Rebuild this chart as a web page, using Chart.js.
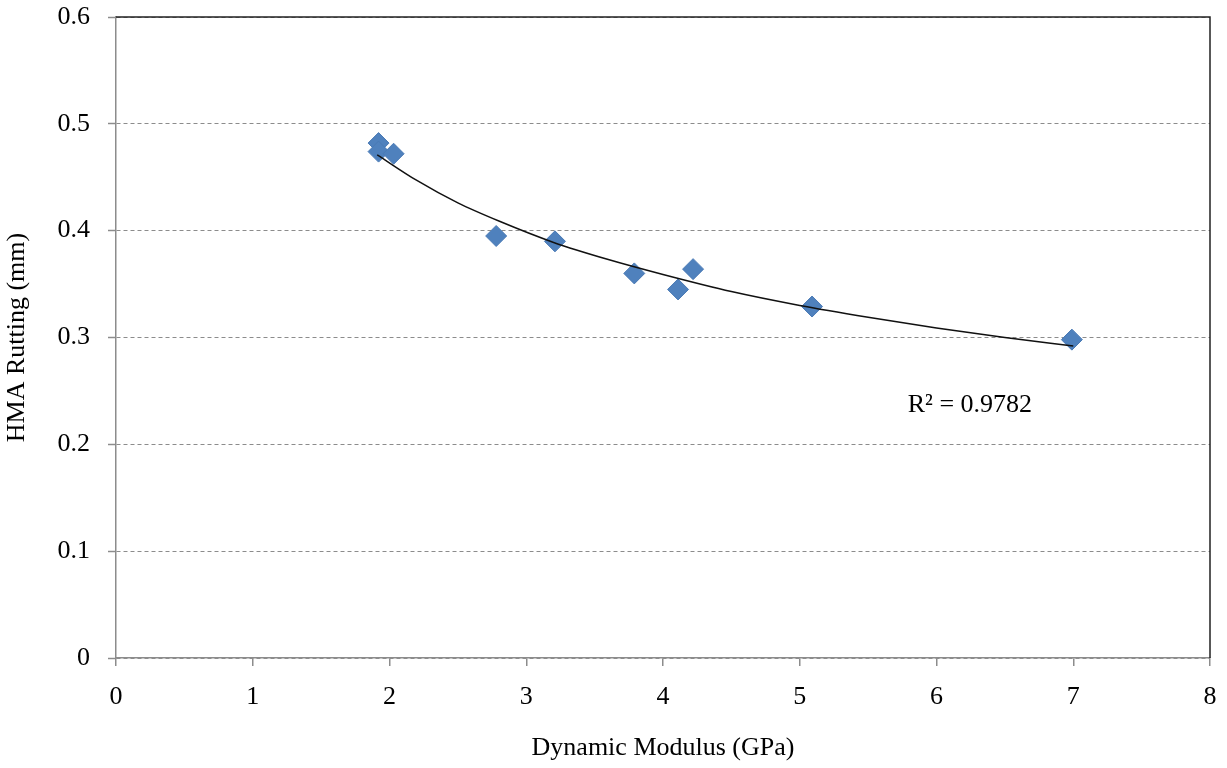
<!DOCTYPE html>
<html>
<head>
<meta charset="utf-8">
<script src="https://cdn.jsdelivr.net/npm/chart.js@4/dist/chart.umd.min.js"></script>
<style>
  html, body { margin: 0; padding: 0; background: #fff; }
  #wrap { width: 1227px; height: 768px; }
</style>
</head>
<body>
<div id="wrap"><canvas id="myChart" width="1227" height="768"></canvas></div>
<script>
// measured points (GPa, mm)
const modulus = [1.92, 1.92, 2.03, 2.78, 3.21, 3.79, 4.11, 4.22, 5.09, 6.99];
const rutting = [0.482, 0.474, 0.472, 0.395, 0.390, 0.360, 0.345, 0.364, 0.329, 0.298];

// trend curve
const trendX = [1.91, 2.2, 2.5, 2.8, 3.2, 3.6, 4.0, 4.5, 5.0, 5.5, 6.0, 6.5, 7.0];
const trendY = [0.471, 0.447, 0.426, 0.409, 0.389, 0.373, 0.359, 0.343, 0.330, 0.319, 0.309, 0.300, 0.292];

const xTicks = [0, 1, 2, 3, 4, 5, 6, 7, 8];
const yTicks = [0, 0.1, 0.2, 0.3, 0.4, 0.5, 0.6];
const r2Label = 'R² = 0.9782';
const r2Pos = [5.79, 0.237];

const serif = '"Liberation Serif", "Times New Roman", serif';
const gray = '#8c8c8c';

// top + right frame of the plot area, and the R² text
const extras = {
  id: 'extras',
  afterDraw(chart) {
    const { ctx, chartArea: a, scales } = chart;
    ctx.save();
    ctx.strokeStyle = '#222';
    ctx.lineWidth = 1.5;
    ctx.beginPath();
    ctx.moveTo(a.left, a.top);
    ctx.lineTo(a.right, a.top);
    ctx.lineTo(a.right, a.bottom);
    ctx.stroke();
    ctx.fillStyle = '#000';
    ctx.font = '26px ' + serif;
    ctx.textAlign = 'left';
    ctx.textBaseline = 'middle';
    ctx.fillText(r2Label, scales.x.getPixelForValue(r2Pos[0]), scales.y.getPixelForValue(r2Pos[1]));
    ctx.restore();
  }
};

new Chart(document.getElementById('myChart'), {
  type: 'scatter',
  data: {
    datasets: [
      {
        label: 'trend',
        type: 'line',
        data: trendX.map((x, i) => ({ x: x, y: trendY[i] })),
        borderColor: '#111',
        borderWidth: 1.5,
        pointRadius: 0,
        cubicInterpolationMode: 'monotone',
        fill: false
      },
      {
        label: 'HMA',
        data: modulus.map((x, i) => ({ x: x, y: rutting[i] })),
        pointStyle: 'rectRot',
        pointRadius: 10.5,
        backgroundColor: '#4f81bd',
        borderColor: '#4a7ab5',
        borderWidth: 1
      }
    ]
  },
  options: {
    responsive: false,
    animation: false,
    layout: { padding: { left: 0, right: 17, top: 17, bottom: 0 } },
    plugins: { legend: { display: false }, tooltip: { enabled: false } },
    scales: {
      x: {
        type: 'linear',
        min: 0, max: 8,
        afterBuildTicks: s => { s.ticks = xTicks.map(v => ({ value: v })); },
        afterFit: s => { s.height = 110; s.paddingLeft = 0; s.paddingRight = 0; },
        ticks: { color: '#000', padding: 16, font: { family: serif, size: 26 } },
        grid: { drawOnChartArea: false, drawTicks: true, tickLength: 8, color: gray, lineWidth: 1.5 },
        border: { display: true, color: gray, width: 1.5 },
        title: {
          display: true, text: 'Dynamic Modulus (GPa)', color: '#000',
          font: { family: serif, size: 26 }, padding: { top: 4, bottom: 4 }
        }
      },
      y: {
        type: 'linear',
        min: 0, max: 0.6,
        afterBuildTicks: s => { s.ticks = yTicks.map(v => ({ value: v })); },
        afterFit: s => { s.width = 116; s.paddingTop = 0; s.paddingBottom = 0; },
        ticks: { color: '#000', padding: 18, font: { family: serif, size: 26 } },
        grid: { color: gray, lineWidth: 1, drawTicks: true, tickLength: 8, tickColor: gray, tickWidth: 1.5, tickBorderDash: [] },
        border: { display: true, color: gray, width: 1.5, dash: [4, 3] },
        title: {
          display: true, text: 'HMA Rutting (mm)', color: '#000',
          font: { family: serif, size: 26 }, padding: { top: 2, bottom: 2 }
        }
      }
    }
  },
  plugins: [extras]
});
</script>
</body>
</html>
